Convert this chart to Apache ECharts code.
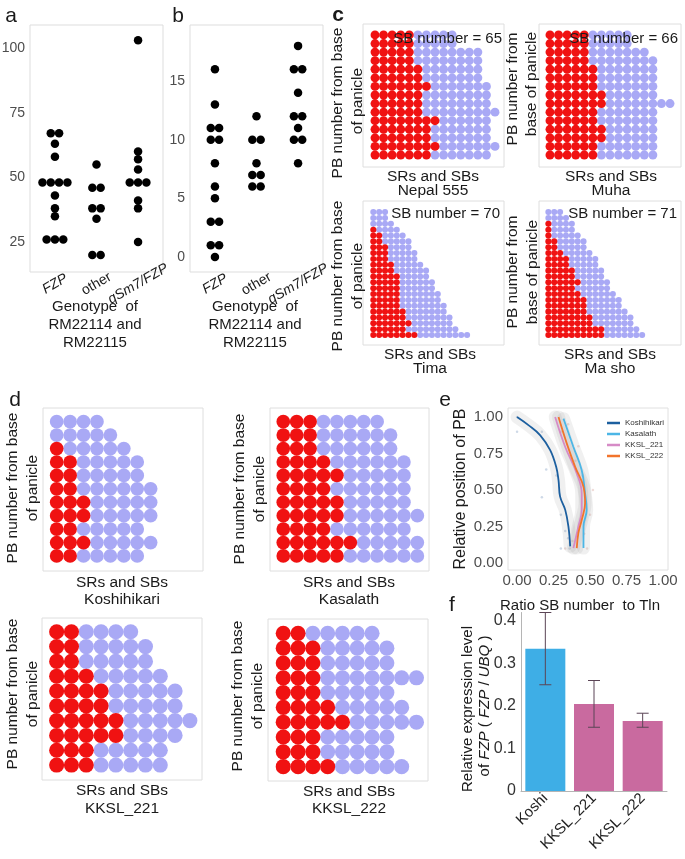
<!DOCTYPE html>
<html>
<head>
<meta charset="utf-8">
<title>FZP figure</title>
<script src="https://cdn.jsdelivr.net/npm/echarts@6.0.0/dist/echarts.min.js"></script>
<style>
html,body{margin:0;padding:0;background:#ffffff;}
#chart{width:685px;height:859px;}
</style>
</head>
<body>
<div id="chart"></div>
<script>
// ================= DATA =================
// Panels a & b: genotype of RM22114 and RM22115
const genotypeLabels = ['FZP', 'other', 'qSm7/FZP'];
const italicGenotype = [true, false, true];
const aValuesFZP   = [67, 67, 63, 58, 48, 48, 48, 48, 43, 38, 35, 26, 26, 26];
const aValuesOther = [55, 46, 46, 38, 38, 34, 20, 20];
const aValuesQsm7  = [103, 60, 57, 53, 48, 48, 48, 41, 38, 25];
const aTicks = [25, 50, 75, 100];
const bValuesFZP   = [16, 13, 11, 11, 10, 10, 8, 6, 5, 3, 3, 1, 1, 0];
const bValuesOther = [12, 10, 10, 8, 7, 7, 6, 6];
const bValuesQsm7  = [18, 16, 16, 14, 12, 12, 11, 10, 10, 8];
const bTicks = [0, 5, 10, 15];

// Panels c & d: one entry per PB row, listed from the apex row down to the base row
// red = red positions in that row, total = all positions in that row
const nepal555Red   = [5,5,5,5,6,6,7,6,6,6,8,7,7,8,7];
const nepal555Total = [10,10,13,13,13,13,14,14,14,15,14,14,14,15,14];
const muhaRed   = [5,5,5,5,6,6,6,7,7,6,6,7,7,6,6];
const muhaTotal = [10,10,12,13,13,13,13,13,15,13,13,13,13,13,13];
const timaRed   = [0,0,0,1,2,2,3,3,3,4,4,5,5,5,5,5,5,6,6,7,6,8];
const timaTotal = [3,3,4,5,6,7,7,8,8,9,10,10,11,11,12,12,13,13,14,14,15,17];
const mashoRed   = [0,0,1,1,1,2,2,3,4,4,5,5,6,5,6,7,7,7,8,8,10,10];
const mashoTotal = [3,4,5,5,6,7,7,8,9,9,10,10,11,11,12,13,13,14,15,15,16,17];
const sbNumbers = [65, 66, 70, 71];
const cVarieties = ['Nepal 555', 'Muha', 'Tima', 'Ma sho'];
const koshiRed   = [0,0,1,2,2,2,3,3,2,3,2];
const koshiTotal = [4,5,6,7,7,8,8,8,7,8,7];
const kasaRed    = [3,3,3,4,5,4,5,5,4,6,5];
const kasaTotal  = [8,9,9,10,10,10,10,11,10,11,11];
const kksl221Red   = [2,2,2,3,4,4,5,5,3,3];
const kksl221Total = [6,7,7,8,9,9,10,9,8,8];
const kksl222Red   = [2,3,3,3,3,4,5,3,3,4];
const kksl222Total = [7,8,8,10,8,9,10,8,8,9];
const dVarieties = ['Koshihikari', 'Kasalath', 'KKSL_221', 'KKSL_222'];

// Panel e: smoothed curves [ratio, relative position]
const eTicks = [0, 0.25, 0.5, 0.75, 1];
const eNames = ['Koshihikari', 'Kasalath', 'KKSL_221', 'KKSL_222'];
const eKoshihikari = [[0,1],[0.08,0.943],[0.159,0.875],[0.227,0.773],[0.268,0.659],[0.284,0.568],[0.295,0.455],[0.33,0.364],[0.352,0.25],[0.364,0.114]];
const eKasalath = [[0.318,0.989],[0.386,0.795],[0.443,0.636],[0.466,0.477],[0.477,0.364],[0.455,0.25],[0.455,0.102]];
const eKKSL221 = [[0.261,1.0],[0.33,0.795],[0.409,0.614],[0.443,0.477],[0.443,0.364],[0.42,0.25],[0.386,0.102]];
const eKKSL222 = [[0.284,1.0],[0.341,0.818],[0.398,0.659],[0.455,0.523],[0.466,0.409],[0.443,0.295],[0.42,0.205],[0.409,0.102]];
const eKoshiPoints = [[0,1],[0,0.9],[0.17,0.9],[0.2,0.64],[0.17,0.45],[0.27,0.6],[0.3,0.33],[0.33,0.22],[0.35,0.17],[0.3,0.1],[0.36,0.1]];
const eOtherPoints = [[0.35,0.95],[0.3,0.9],[0.42,0.8],[0.52,0.5],[0.5,0.33],[0.46,0.2],[0.38,0.15],[0.48,0.1],[0.4,0.7],[0.45,0.6],[0.33,0.1]];

// Panel f: relative expression level
const exprCategories = ['Koshi', 'KKSL_221', 'KKSL_222'];
const exprMean = [0.335, 0.205, 0.165];
const exprLow  = [0.25, 0.15, 0.15];
const exprHigh = [0.42, 0.26, 0.183];
const fTicks = [0, 0.1, 0.2, 0.3, 0.4];

// ================= STYLE / LAYOUT =================
const FONT = '"Liberation Sans", Arial, Helvetica, sans-serif';
const RED = '#f01212', BLUE = '#a9a9f5';
const barColors = ['#3eaee6', '#c96a9f', '#c96a9f'];
const eColors = ['#1c5f9f', '#4cb6e6', '#d68bc6', '#f2742c'];

const grid = [], xAxis = [], yAxis = [], series = [], graphic = [];

function axis(gi, o) {
  return Object.assign({type:'value', gridIndex:gi, axisLine:{show:false}, axisTick:{show:false},
    splitLine:{show:false}, axisLabel:{show:false}}, o || {});
}
function addGrid(box, border) {
  grid.push({left:box[0], top:box[1], width:box[2], height:box[3], show:!!border,
    borderColor:border || 'transparent', borderWidth:1, backgroundColor:'transparent',
    containLabel:false, outerBoundsMode:'none'});
  return grid.length - 1;
}
function dotStack(vals, group, step) {
  const counts = {}, seen = {};
  vals.forEach(v => counts[v] = (counts[v] || 0) + 1);
  return vals.map(v => { const k = seen[v] || 0; seen[v] = k + 1; return [group + (k - (counts[v] - 1) / 2) * step, v]; });
}
function addDotPlot(box, groups, yMin, yMax, ticks) {
  const gi = addGrid(box, '#dddddd');
  xAxis.push(axis(gi, {min:0.4, max:3.6, axisLabel:{show:true, customValues:[1,2,3], rotate:30,
    align:'center', verticalAlign:'middle', margin:12,
    formatter: v => { const i = Math.round(v) - 1; return (italicGenotype[i] ? '{i|' : '{n|') + genotypeLabels[i] + '}'; },
    rich:{i:{fontStyle:'italic', fontSize:14, fontFamily:FONT, color:'#1a1a1a'},
          n:{fontSize:14, fontFamily:FONT, color:'#1a1a1a'}}}}));
  yAxis.push(axis(gi, {min:yMin, max:yMax, axisLabel:{show:true, customValues:ticks, fontSize:14,
    color:'#4d4d4d', fontFamily:FONT, margin:5}}));
  groups.forEach((vals, k) => series.push({type:'scatter', xAxisIndex:gi, yAxisIndex:gi, symbolSize:8.5,
    itemStyle:{color:'#000', opacity:1}, data:dotStack(vals, k + 1, 0.2), silent:true}));
}
function addDotGrid(box, xr, yr, size, reds, totals) {
  const gi = addGrid(box, '#dedede');
  xAxis.push(axis(gi, {min:xr[0], max:xr[1]}));
  yAxis.push(axis(gi, {min:yr[0], max:yr[1]}));
  const n = reds.length, r = [], b = [];
  for (let i = 0; i < n; i++) {
    const row = n - 1 - i;
    for (let c = 0; c < totals[i]; c++) (c < reds[i] ? r : b).push([c, row]);
  }
  series.push({type:'scatter', xAxisIndex:gi, yAxisIndex:gi, symbolSize:size, itemStyle:{color:BLUE, opacity:1}, data:b, silent:true});
  series.push({type:'scatter', xAxisIndex:gi, yAxisIndex:gi, symbolSize:size, itemStyle:{color:RED, opacity:1}, data:r, silent:true});
}
function T(x, y, text, o) {
  o = o || {};
  graphic.push({type:'text', x:x, y:y, rotation:o.rot || 0, z:100, silent:true,
    style:{text:text, fill:o.color || '#1a1a1a', fontSize:o.size || 15, fontFamily:FONT,
      fontWeight:o.bold ? 'bold' : 'normal', fontStyle:o.italic ? 'italic' : 'normal',
      align:o.align || 'center', verticalAlign:'middle', rich:o.rich}});
}
const R90 = Math.PI / 2;

// ----- panel a, b
addDotPlot([30,25,133,247], [aValuesFZP, aValuesOther, aValuesQsm7], 13.4, 108.9, aTicks);
addDotPlot([190,25,133,247], [bValuesFZP, bValuesOther, bValuesQsm7], -1.28, 19.78, bTicks);
[95, 255].forEach(cx => {
  T(cx, 307, 'Genotype  of'); T(cx, 325, 'RM22114 and'); T(cx, 343, 'RM22115');
});
T(11, 16, 'a', {size:21}); T(178, 16, 'b', {size:21});

// ----- panel c
const cData = [[nepal555Red, nepal555Total], [muhaRed, muhaTotal], [timaRed, timaTotal], [mashoRed, mashoTotal]];
const cLayout = [
  {box:[363,24,141,143], xr:[-1.4,15.05], yr:[-1.4,15.28], size:8.9, sb:[502,39], xt:[433,177], yt:[[338,103,'PB number from base'],[358,101,'of panicle']]},
  {box:[539,24,142,143], xr:[-1.28,15.28], yr:[-1.4,15.28], size:8.9, sb:[678,39], xt:[611,177], yt:[[513,89,'PB number from'],[532,84,'base of panicle']]},
  {box:[363,201,141,144], xr:[-1.76,22.3], yr:[-1.7,22.9], size:6.1, sb:[500,214], xt:[430,355], yt:[[338,276,'PB number from base'],[358,276,'of panicle']]},
  {box:[539,201,142,144], xr:[-1.6,22.63], yr:[-1.7,22.9], size:6.1, sb:[677,214], xt:[610,355], yt:[[513,272,'PB number from'],[533,272,'base of panicle']]}
];
cLayout.forEach((L, i) => {
  addDotGrid(L.box, L.xr, L.yr, L.size, cData[i][0], cData[i][1]);
  T(L.sb[0], L.sb[1], 'SB number = ' + sbNumbers[i], {align:'right', size:15});
  T(L.xt[0], L.xt[1], 'SRs and SBs', {size:15.5});
  T(L.xt[0], L.xt[1] + 14, cVarieties[i], {size:15.5});
  L.yt.forEach(t => T(t[0], t[1], t[2], {rot:R90, size:15.5}));
});
T(338, 15, 'c', {size:21, bold:true});

// ----- panel d
const dData = [[koshiRed, koshiTotal], [kasaRed, kasaTotal], [kksl221Red, kksl221Total], [kksl222Red, kksl222Total]];
const dLayout = [
  {box:[43,408,160,163], xr:[-1.02,10.9], yr:[-1.12,11.02], size:13.7, xt:[122,583,600], yt:[13,33,488]},
  {box:[270,408,159,163], xr:[-0.99,10.87], yr:[-1.12,11.02], size:13.7, xt:[349,583,600], yt:[240,260,489]},
  {box:[42,618,160,162], xr:[-0.99,9.82], yr:[-1.01,9.93], size:15.1, xt:[122,791,809], yt:[13,33,694]},
  {box:[268,619,160,162], xr:[-1.03,9.78], yr:[-0.97,9.97], size:15.1, xt:[349,792,809], yt:[238,258,696]}
];
dLayout.forEach((L, i) => {
  addDotGrid(L.box, L.xr, L.yr, L.size, dData[i][0], dData[i][1]);
  T(L.xt[0], L.xt[1], 'SRs and SBs', {size:15.5});
  T(L.xt[0], L.xt[2], dVarieties[i], {size:15.5});
  T(L.yt[0], L.yt[2], 'PB number from base', {rot:R90, size:15.5});
  T(L.yt[1], L.yt[2], 'of panicle', {rot:R90, size:15.5});
});
T(15, 400, 'd', {size:21});

// ----- panel e
const ge = addGrid([508,408,160,162], '#e0e0e0');
xAxis.push(axis(ge, {min:-0.062, max:1.034, axisLabel:{show:true, customValues:eTicks, formatter:v => v.toFixed(2),
  fontSize:15, color:'#4d4d4d', fontFamily:FONT, margin:3}}));
yAxis.push(axis(ge, {min:-0.048, max:1.062, axisLabel:{show:true, customValues:eTicks, formatter:v => v.toFixed(2),
  fontSize:15, color:'#4d4d4d', fontFamily:FONT, margin:5}}));
const eCurves = [eKoshihikari, eKasalath, eKKSL221, eKKSL222];
eCurves.forEach(c => series.push({type:'line', name:'band', xAxisIndex:ge, yAxisIndex:ge, data:c, smooth:0.4,
  showSymbol:false, silent:true, lineStyle:{width:13, color:'rgba(160,160,160,0.16)', cap:'round'}}));
series.push({type:'scatter', xAxisIndex:ge, yAxisIndex:ge, data:eKoshiPoints, symbolSize:2.5, silent:true,
  itemStyle:{color:'rgba(80,120,170,0.35)'}});
series.push({type:'scatter', xAxisIndex:ge, yAxisIndex:ge, data:eOtherPoints, symbolSize:2.5, silent:true,
  itemStyle:{color:'rgba(200,130,120,0.35)'}});
eCurves.forEach((c, i) => series.push({type:'line', name:eNames[i], xAxisIndex:ge, yAxisIndex:ge, data:c, smooth:0.4,
  showSymbol:false, silent:true, itemStyle:{color:eColors[i]}, lineStyle:{width:1.8, color:eColors[i]}}));
T(461, 489, 'Relative position of PB', {rot:R90, size:16});
T(580, 606, 'Ratio SB number  to Tln', {size:15});
T(445, 400, 'e', {size:21});

// ----- panel f
const gf = addGrid([521,612.5,146,178.5], null);
xAxis.push({type:'category', gridIndex:gf, data:exprCategories, axisLine:{show:true, lineStyle:{color:'#b5b5b5'}},
  axisTick:{show:false}, splitLine:{show:false},
  axisLabel:{rotate:45, interval:0, fontSize:15, color:'#222', fontFamily:FONT, margin:5}});
yAxis.push(axis(gf, {min:0, max:0.42, axisLine:{show:true, lineStyle:{color:'#b5b5b5'}},
  axisLabel:{show:true, customValues:fTicks, formatter:v => v === 0 ? '0' : v.toFixed(1), fontSize:16,
    color:'#333', fontFamily:FONT, margin:5}}));
series.push({type:'bar', xAxisIndex:gf, yAxisIndex:gf, barWidth:40, silent:true,
  data:exprMean.map((v, i) => ({value:v, itemStyle:{color:barColors[i]}}))});
series.push({type:'custom', xAxisIndex:gf, yAxisIndex:gf, silent:true, z:5,
  data:exprCategories.map((c, i) => [i, exprLow[i], exprHigh[i]]),
  renderItem:function(params, api) {
    const lo = api.coord([api.value(0), api.value(1)]), hi = api.coord([api.value(0), api.value(2)]);
    const w = 6, st = {stroke:'#5b4556', lineWidth:1};
    return {type:'group', children:[
      {type:'line', shape:{x1:lo[0], y1:lo[1], x2:hi[0], y2:hi[1]}, style:st},
      {type:'line', shape:{x1:lo[0]-w, y1:lo[1], x2:lo[0]+w, y2:lo[1]}, style:st},
      {type:'line', shape:{x1:hi[0]-w, y1:hi[1], x2:hi[0]+w, y2:hi[1]}, style:st}]};
  }});
T(468, 709, 'Relative expression level', {rot:R90, size:15});
T(485, 706, '{n|of }{i|FZP}{n| ( }{i|FZP}{n| / }{i|UBQ}{n| )}', {rot:R90, size:15,
  rich:{n:{fontSize:15, fontFamily:FONT, fill:'#1a1a1a', color:'#1a1a1a'},
        i:{fontSize:15, fontFamily:FONT, fontStyle:'italic', fill:'#1a1a1a', color:'#1a1a1a'}}});
T(452, 605, 'f', {size:21});

const chart = echarts.init(document.getElementById('chart'), null, {renderer:'canvas'});
chart.setOption({
  animation:false,
  backgroundColor:'#ffffff',
  textStyle:{fontFamily:FONT},
  legend:{data:eNames, left:602, top:414, orient:'vertical', icon:'rect', itemWidth:13, itemHeight:2.5,
    itemGap:3, selectedMode:false, textStyle:{fontSize:8, color:'#333', fontFamily:FONT}},
  grid:grid, xAxis:xAxis, yAxis:yAxis, series:series, graphic:graphic
});
</script>
</body>
</html>
